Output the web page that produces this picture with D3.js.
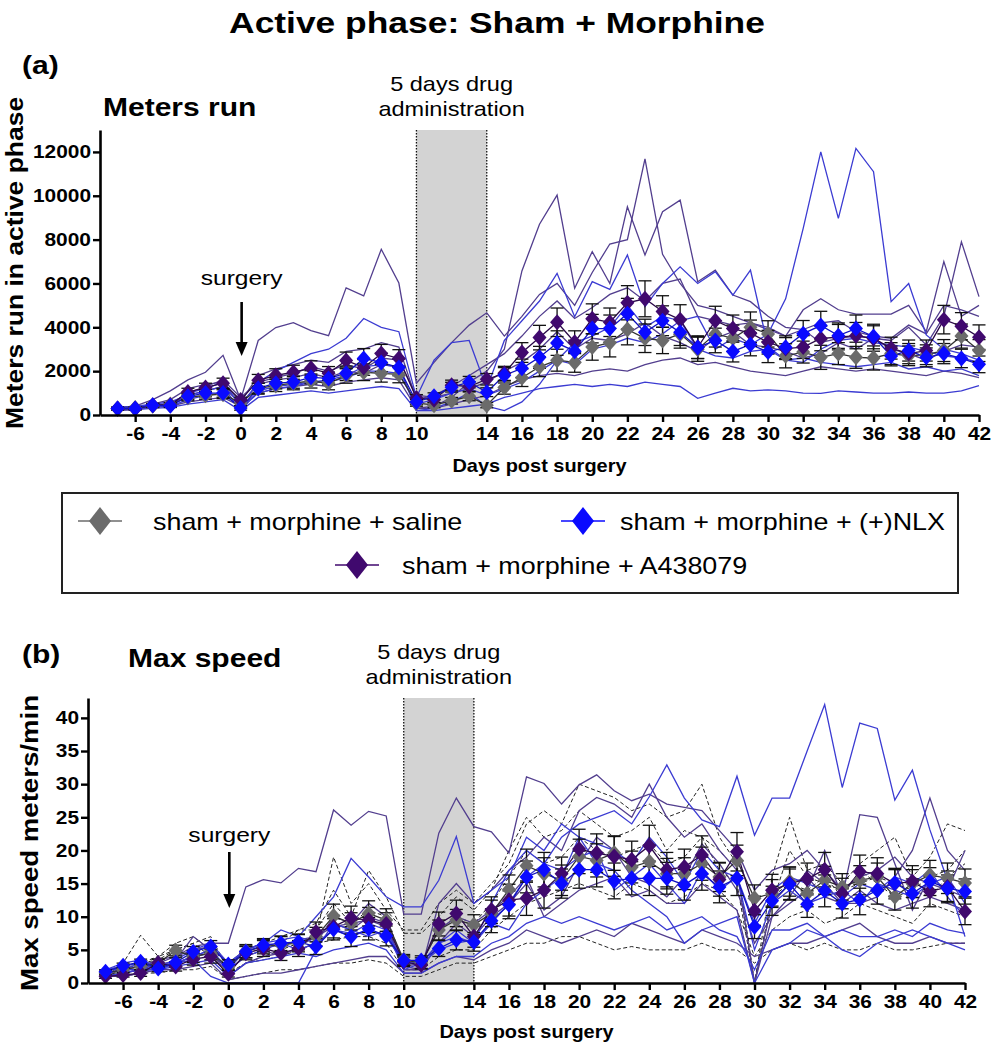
<!DOCTYPE html>
<html><head><meta charset="utf-8">
<script src="https://cdn.jsdelivr.net/npm/d3@7"></script>
<style>
body{margin:0;background:#fff}
svg{display:block}
text{font-family:Arial,"Liberation Sans",sans-serif;fill:#000}
</style>
</head><body>
<svg id="chart" width="1002" height="1050"></svg>
<script>
// ---------- DATA ----------
const days = [-7,-6,-5,-4,-3,-2,-1,0,1,2,3,4,5,6,7,8,9,10,11,12,13,14,15,16,17,18,19,20,21,22,23,24,25,26,27,28,29,30,31,32,33,34,35,36,37,38,39,40,41,42];
const xTickDays = [-6,-4,-2,0,2,4,6,8,10,14,16,18,20,22,24,26,28,30,32,34,36,38,40,42];
const metersTicks = [0,2000,4000,6000,8000,10000,12000];
const speedTicks = [0,5,10,15,20,25,30,35,40];
const groupNames = ["sham + morphine + saline","sham + morphine + (+)NLX","sham + morphine + A438079"];

// Panel (a): meters run, group means and SEM
const metersSaline = [280,320,420,480,800,900,950,550, 1200,1350,1450,1550,1450,1800,1950,1900,1850, 550,450,650,850,450, 1250,1700,2200,2500,2400,3100,3300,3900,3500,3400,3700,3000,3700,3500,4000,3700,2700,2870,2630,2800,2630,2600,2800,2700,2750,2940,3600,2940];
const metersNLX = [300,300,450,420,850,1000,1000,320, 1220,1450,1500,1720,1670,1900,2580,2400,2170, 590,860,1270,1500,1040, 1810,2130,2630,3280,2910,3940,3940,4620,3770,4300,3770,3080,3400,2900,3220,2870,3090,3710,4080,3620,3940,3580,2690,2940,2630,2800,2580,2310];
const metersA438 = [300,280,450,450,1050,1250,1450,680, 1580,1810,1950,2130,1900,2490,2170,2800,2580, 770,700,1360,1300,1630, 1900,2850,3530,4230,3320,4390,4230,5120,5300,4720,4350,3090,4300,3940,3730,3320,3030,3100,3490,3550,3620,3490,3050,2800,2940,4350,4050,3550];
const metersSalineSem = [60,60,80,90,150,180,200,120, 250,280,300,320,300,350,380,400,380, 150,120,150,200,120, 300,400,450,500,450,600,650,700,650,600,650,550,600,600,700,600,550,500,550,500,500,550,500,450,450,500,550,500];
const metersNLXSem = [50,60,70,80,140,170,190,100, 230,260,280,300,290,330,450,420,380, 120,150,220,260,200, 350,420,500,560,500,650,620,700,600,680,600,500,560,480,520,480,520,600,650,580,620,560,450,480,430,460,420,380];
const metersA438Sem = [60,60,80,90,170,200,230,130, 270,300,320,340,310,380,360,420,400, 160,140,230,220,260, 320,450,560,650,520,680,650,780,820,720,680,520,660,620,600,540,500,520,560,580,600,580,500,460,480,650,620,560];

// Panel (a): individual animals
const metersA438Ind1 = [350,400,700,1100,1600,1950,2720,700, 3400,3990,4210,3850,3620,5800,5430,7560,6020, 1450,2400,3300,4100,4660, 3600,4500,5500,6000,5000,6500,7800,8000,11680,7330,6000,5000,4800,4500,4200,4000,3600,4800,5300,4800,4600,4600,4600,5000,3800,7000,4500,5000];
const metersA438Ind2 = [250,300,400,500,900,1100,1300,500, 1400,1600,1700,1900,1700,2000,1900,2300,2200, 300,400,800,1500,2000, 3000,6570,8700,10030,5780,7450,6000,9500,7300,9270,9800,6080,6610,5470,5170,4500,4000,3900,3300,3500,3600,3500,3400,4000,3200,4500,7900,5400];
const metersA438Ind3 = [300,350,500,700,1200,1400,1500,600, 1800,2100,2300,2500,2400,2900,3000,3300,3100, 700,900,1300,1800,2300, 2800,3600,4500,5200,4400,4900,5500,5800,5200,6000,6200,4500,4300,4100,4200,3900,3600,3900,4200,4300,3800,3600,3500,4100,3700,5000,4800,4500];
const metersA438Ind4 = [200,250,350,400,600,700,800,400, 1000,1200,1300,1400,1300,1500,1600,1700,1600, 300,300,500,700,900, 1300,1600,1800,1900,1800,2000,2100,2000,2300,2500,2600,2300,2400,2200,2000,1900,1800,2000,2200,2100,2000,2100,2000,1900,1800,2000,1900,1700];
const metersA438Ind5 = [300,300,450,500,1000,1300,1600,800, 1500,1700,1900,2200,2000,2300,2100,2600,2500, 900,800,1000,1200,1500, 2000,2400,3000,3800,3000,3500,3400,3700,4200,3600,3300,2900,3500,3800,3200,3100,2900,2600,2800,3300,3000,3500,3000,2800,2500,2900,3200,3100];
const metersNLXInd1 = [300,300,400,400,700,900,1000,300, 1000,1200,1300,1500,1500,1700,2000,2000,1900, 500,700,1000,1200,900, 1200,1500,2000,2500,2300,3000,3200,3500,3300,3700,4300,4500,3000,3500,3200,3700,5300,8510,12000,8970,12160,11100,5170,6000,3650,3000,2800,2500];
const metersNLXInd2 = [300,350,500,500,1000,1200,1500,400, 1500,2000,2400,2800,3000,3500,4400,4000,3800, 800,2500,3300,3400,1200, 3400,4300,5200,6460,4480,6080,5730,7300,4940,6000,6760,6000,6540,5470,6610,3120,2500,2600,2400,2300,2200,2300,2400,2100,2200,2000,2100,1800];
const metersNLXInd3 = [250,250,300,350,500,600,700,200, 800,900,1000,1100,1000,1100,1200,1300,1200, 200,200,300,400,500, 800,1000,1200,1300,1400,1300,1400,1300,1500,1400,1300,760,1000,1220,1100,1150,1100,1000,990,1100,1050,1000,1000,1050,1000,1000,1100,1340];
const metersNLXInd4 = [350,400,500,600,900,1100,1300,200, 1100,1300,1400,1500,1600,1800,2200,2300,2200, 200,300,600,1000,400, 200,600,1400,2500,3300,3600,4000,5000,4000,4500,4300,3000,2700,2600,2900,3000,2500,2400,3000,3400,3500,3300,3200,3100,2900,2700,2600,2400];

// Panel (b): max speed, group means and SEM
const speedSaline = [1.5,2.0,2.5,3.0,4.9,4.0,4.5,2.5, 4.8,5.5,5.8,6.0,7.0,10.1,9.0,10.5,9.5, 3.5,3.0,8.0,9.5,8.8, 10.5,14.1,17.7,16.5,15.5,19.1,18.5,19.6,17.5,18.3,16.5,16.5,18.0,16.0,18.5,12.8,13.5,15.3,13.5,15.5,14.5,15.5,16.0,13.0,15.0,16.3,15.8,15.1];
const speedNLX = [1.7,2.6,3.2,2.2,3.1,4.7,5.5,2.8, 4.7,5.7,6.0,6.2,5.5,8.1,7.0,8.2,7.1, 3.4,3.4,5.2,6.5,6.2, 9.4,11.8,16.0,17.1,15.0,17.1,17.1,15.4,15.8,15.8,15.8,14.8,16.5,14.5,15.8,8.5,12.4,14.9,11.9,13.9,12.0,12.6,14.0,15.1,13.5,15.3,14.3,13.8];
const speedA438 = [1.0,1.2,1.5,3.0,2.5,3.6,4.0,1.4, 4.5,5.2,4.5,5.2,7.7,8.5,9.8,9.5,8.9, 3.2,2.7,8.9,10.5,7.0, 11.0,12.5,12.8,14.0,16.5,20.2,19.6,19.1,18.6,20.7,17.1,17.5,19.3,15.6,19.8,10.9,14.0,15.0,15.7,17.1,13.5,16.8,16.5,15.0,15.3,13.8,14.5,10.8];
const speedSalineSem = [0.3,0.4,0.5,0.6,0.8,0.9,1.0,0.6, 1.0,1.1,1.2,1.3,1.4,1.8,1.6,1.9,1.7, 0.8,0.8,1.5,1.6,1.5, 2.0,2.2,2.5,2.4,2.3,2.6,2.5,2.6,2.4,2.5,2.3,2.4,2.5,2.2,2.3,2.0,2.1,2.2,2.0,2.1,2.0,2.2,2.1,2.0,2.1,2.2,2.3,2.1];
const speedNLXSem = [0.3,0.4,0.4,0.5,0.7,0.8,0.9,0.7, 0.9,1.0,1.1,1.2,1.2,1.6,1.5,1.7,1.5, 0.7,0.7,1.2,1.5,1.4, 1.8,2.1,2.4,2.6,2.2,2.8,2.6,2.7,2.5,2.6,2.4,2.3,2.5,2.4,2.6,1.8,2.2,2.3,2.0,2.4,2.2,2.3,2.1,2.0,2.2,2.1,2.0,1.9];
const speedA438Sem = [0.3,0.3,0.5,0.6,0.7,0.9,1.0,0.5, 1.0,1.2,1.1,1.2,1.5,1.7,1.8,1.9,1.7, 0.7,0.6,1.8,2.0,1.6, 2.0,2.4,2.6,2.7,2.5,3.0,2.9,3.0,2.8,3.1,2.6,2.7,2.9,2.5,2.9,2.2,2.4,2.5,2.4,2.6,2.3,2.5,2.4,2.3,2.4,2.3,2.4,2.0];

// Panel (b): individual animals
const speedA438Ind1 = [1.0,1.5,2.0,3.0,4.0,5.5,6.0,6.0, 14.5,15.6,15.1,17.3,16.8,26.1,23.8,25.9,25.2, 10.4,10.4,22.6,27.9,23.6, 22.8,19.6,31.1,30.1,27.0,29.9,31.4,29.0,27.5,28.5,27.0,26.5,26.0,23.0,20.0,14.0,17.0,18.0,20.0,17.0,14.0,16.0,17.0,19.0,16.0,15.0,14.0,13.0];
const speedA438Ind2 = [1.5,1.0,1.5,2.5,3.5,7.0,5.0,1.0, 3.0,4.0,4.5,5.0,6.0,10.0,9.0,12.0,10.0, 2.5,2.0,12.0,15.0,12.0, 14,17,19,22,20,26,28,27,25,30,25,22,24,20,17,0,10,12,14,20,13,25.4,25,18,11,16,14,20];
const speedA438Ind3 = [1.0,1.5,2.0,3.0,3.0,4.0,4.5,2.0, 4.0,5.0,4.0,5.5,7.0,9.0,8.0,10.0,9.0, 2.0,2.0,6.0,9.0,7.0, 10,12,15,11,13,18,22,20,16,15,13,16,21,18,14,6,10,13,17,15,12,12,13,16,20,27.9,20,17];
const speedA438Ind4 = [1,1,1.5,2,2,2.5,3,0.5, 1.0,1.5,1.5,2.0,2.5,3.0,3.5,4.0,4.0, 1.5,1.5,3.0,4.0,3.5, 5,6,8,7,6,7,8,7,9,8,7,6,8,7,6,4,5,6,6,7,8,9,7,6,6,7,6,6];
const speedA438Ind5 = [1.5,2,2.5,3.5,4,5,5.5,3, 5,6,5.5,6.5,7,8.5,9,9.5,8.5, 2.5,3,8,10,9, 11,13,16,10,12,14,15,16,13,14,12,12,15,13,11,0,12,15,16,13,12,14,12,11,12,13,12,11];
const speedNLXInd1 = [2,2.5,3,2,3,4,5,2, 4,5,6,5,6,8,7,8,7, 3,3,6,8,6, 12,17,20,18,22,24,25,26,24,28.1,32.9,27.9,24.6,23.6,31.2,22.3,27.9,27.9,35,42,29.5,39.2,38.4,27.6,32.1,23.1,15.5,7.0];
const speedNLXInd2 = [2,2,3,2,3,4,5,2, 5,6,8,7,10,13,18.8,16,13, 11.5,11.5,15.5,22.1,12, 14,16,22,20,24,22,21,20,18,22,19,15,20,17,16,9,14,16,15,14,13,15,14,16,15,17,13,10];
const speedNLXInd3 = [1.5,2,2,2.5,3,3.5,1,0, 0,0,0,0,5,9,8,7,8, 2,3,6,7,6, 9,8,12,14,16,22,18,17,14,12,10,6,8,9,10,0,5,6,8,7,5,4,6,7,8,7,6,5];
const speedNLXInd4 = [2,3,3.5,2.5,3.5,5,6,3, 5,6,6.5,7,6,8,7.5,9,8, 3,3,5,6,6.5, 9,12,16,18,17,19,20,14,16,18,15,12,17,14,16,5,12,14,12,13,14,12,15,14,13,15,16,12];
const speedNLXInd5 = [1,1.5,2,2,2.5,3,3.5,1, 3,3.5,4,4.5,4,5,5.5,6,5, 1.5,1.5,3,4,4, 6,7,9,10,9,10,9,8,9,10,8,9,10,8,7,2,8,8,9,7,8,7,7,8,7,9,8,7.5];
const speedSalineInd1 = [1,3,7.2,4,5,6,4,1.5, 3,4,5,6,7,19,12,15,11, 8,8,12,14,12, 15,18,24,26,24,30,29,28,26,27,25,26,30,22,18,0,16,25,17,18,15,18,20,22,16,19,24,23];
const speedSalineInd2 = [1,2,3,3.5,5,6,7,2, 4,5,6,8,9,14,10,17,13, 7.5,7.5,10,13,11, 14,20,25,22,23,26,24,22,23,25,20,23,22,20,17,0,13,15,14,16,13,17,15,13,14,16,17,20];
const speedSalineInd3 = [1.5,1.5,2,2.5,3,4,4.5,1, 3,3.5,4,5,6,6.5,7,7,6, 2,2,4,5,5, 8,10,12,13,14,15,14,13,15,14,12,13,15,14,11,4,8,10,11,9,10,12,11,10,9,12,11,10];
const speedSalineInd4 = [1,1,1.5,1.5,2,2,2.5,0.5, 1,1.5,2,2,2.5,3,3,3.5,3, 1,1,2,3,3, 4,5,6,6,7,7,6,5,5.5,5,5,5,6,5,5,3,5,6,5,6,5,5,6,5,5,5.5,6,6];
const speedSalineInd5 = [2,2.5,3,4,6,7,5,3, 5,6,7,8,8,12,9,11,10, 3,3,8,10,9, 12,16,20,18,19,22,20,19,20,21,18,19,22,17,15,0,12,20,16,15,14,15,16,15,14,13,16,18];

// ---------- DRAWING ----------
const svg = d3.select('#chart');
const FILL = {saline:'#6b6b6b', nlx:'#0a0aff', a438:'#40096e'};
const MEANLINE = {saline:'#333333', nlx:'#1010c0', a438:'#2a0848'};
const INDCOL = {a438:'#523e8e', nlx:'#3b3bd2', saline:'#222222'};

// widen text horizontally (reference typeface is wider than Arial)
function stretch(sel, f){
  sel.each(function(){
    const L = this.getComputedTextLength();
    this.setAttribute('textLength', (L*f).toFixed(1));
    this.setAttribute('lengthAdjust','spacingAndGlyphs');
  });
  return sel;
}
function diamondPath(w,h){ return `M0,${-h}L${w},0L0,${h}L${-w},0Z`; }

function drawPanel(cfg){
  const x = d3.scaleLinear().domain([-8,42]).range([cfg.x0,cfg.x1]);
  const y = d3.scaleLinear().domain([0,cfg.ymax]).range([cfg.y0,cfg.y1]);
  const g = svg.append('g');

  g.append('rect').attr('x',x(10)).attr('y',cfg.y1).attr('width',x(14)-x(10)).attr('height',cfg.y0-cfg.y1).attr('fill','#d3d3d3');
  [10,14].forEach(d=>{
    g.append('line').attr('x1',x(d)).attr('x2',x(d)).attr('y1',cfg.y1).attr('y2',cfg.y0)
      .attr('stroke','#111').attr('stroke-width',1.3).attr('stroke-dasharray','1.5,1.5');
  });

  const line = d3.line().x((v,i)=>x(days[i])).y(v=>y(v));

  cfg.indSaline.forEach(arr=>g.append('path').attr('d',line(arr)).attr('fill','none')
     .attr('stroke',INDCOL.saline).attr('stroke-width',1).attr('stroke-dasharray','4,2.5'));
  cfg.indA438.forEach(arr=>g.append('path').attr('d',line(arr)).attr('fill','none')
     .attr('stroke',INDCOL.a438).attr('stroke-width',1.3));
  cfg.indNLX.forEach(arr=>g.append('path').attr('d',line(arr)).attr('fill','none')
     .attr('stroke',INDCOL.nlx).attr('stroke-width',1.3));

  const groups = [
    {key:'saline', m:cfg.saline, s:cfg.salineSem},
    {key:'a438', m:cfg.a438, s:cfg.a438Sem},
    {key:'nlx', m:cfg.nlx, s:cfg.nlxSem}
  ];
  groups.forEach(gr=>{
    g.append('path').attr('d',line(gr.m)).attr('fill','none').attr('stroke',MEANLINE[gr.key]).attr('stroke-width',1.3);
  });
  groups.forEach(gr=>{
    const eb = g.append('g').attr('stroke','#111').attr('stroke-width',1.3);
    gr.m.forEach((v,i)=>{
      const cx = x(days[i]);
      const lo = Math.max(0, v-gr.s[i]), hi = v+gr.s[i];
      eb.append('line').attr('x1',cx).attr('x2',cx).attr('y1',y(lo)).attr('y2',y(hi));
      eb.append('line').attr('x1',cx-6.5).attr('x2',cx+6.5).attr('y1',y(lo)).attr('y2',y(lo));
      eb.append('line').attr('x1',cx-6.5).attr('x2',cx+6.5).attr('y1',y(hi)).attr('y2',y(hi));
    });
  });
  groups.forEach(gr=>{
    g.append('g').selectAll('path').data(gr.m).join('path')
      .attr('d',diamondPath(7,8))
      .attr('transform',(v,i)=>`translate(${x(days[i])},${y(v)})`)
      .attr('fill',FILL[gr.key]);
  });

  const xa = g.append('g').attr('transform',`translate(0,${cfg.y0})`)
    .call(d3.axisBottom(x).tickValues(xTickDays).tickSize(7).tickSizeOuter(0).tickPadding(5).tickFormat(d=>String(d)));
  const ya = g.append('g').attr('transform',`translate(${cfg.x0},0)`)
    .call(d3.axisLeft(y).tickValues(cfg.ticks).tickSize(7).tickSizeOuter(0).tickPadding(2).tickFormat(d=>String(d)));
  [xa,ya].forEach(a=>{
    a.select('.domain').attr('stroke','#000').attr('stroke-width',2.6);
    a.selectAll('.tick line').attr('stroke','#000').attr('stroke-width',2.4);
    a.selectAll('.tick text').attr('font-size',18).attr('font-weight','bold').attr('fill','#000').attr('font-family','Arial, "Liberation Sans", sans-serif');
    stretch(a.selectAll('.tick text'),1.16);
  });

  const sx = x(0)+1;
  stretch(g.append('text').attr('x',sx).attr('y',cfg.surgY).attr('text-anchor','middle').attr('font-size',21).text('surgery'),1.17);
  g.append('line').attr('x1',sx).attr('x2',sx).attr('y1',cfg.arrowY0).attr('y2',cfg.arrowY1-10)
    .attr('stroke','#000').attr('stroke-width',2.6);
  g.append('path').attr('d',`M${sx-6},${cfg.arrowY1-14}L${sx+6},${cfg.arrowY1-14}L${sx},${cfg.arrowY1}Z`).attr('fill','#000');

  stretch(g.append('text').attr('x',x(12)).attr('y',cfg.drugY).attr('text-anchor','middle').attr('font-size',21).text('5 days drug'),1.12);
  stretch(g.append('text').attr('x',x(12)).attr('y',cfg.drugY+25).attr('text-anchor','middle').attr('font-size',21).text('administration'),1.12);

  stretch(g.append('text').attr('x',(cfg.x0+cfg.x1)/2).attr('y',cfg.xlabY).attr('text-anchor','middle')
    .attr('font-size',19).attr('font-weight','bold').text('Days post surgery'),1.05);
  stretch(g.append('text').attr('transform',`translate(${cfg.ylabX},${cfg.ylabCY}) rotate(-90)`).attr('text-anchor','middle')
    .attr('font-size',23).attr('font-weight','bold').text(cfg.ylab),cfg.ylabF);

  stretch(g.append('text').attr('x',cfg.tagX).attr('y',cfg.tagY).attr('font-size',25).attr('font-weight','bold').text(cfg.tag),1.2);
  stretch(g.append('text').attr('x',cfg.subX).attr('y',cfg.subY).attr('font-size',25).attr('font-weight','bold').text(cfg.sub),1.2);
}

const title = svg.append('text').attr('x',497).attr('y',33).attr('text-anchor','middle').attr('font-size',29).attr('font-weight','bold')
  .text('Active phase: Sham + Morphine');
stretch(title,1.22);

drawPanel({
  x0:100, x1:979, y0:415, y1:130, ymax:13000, ticks:metersTicks,
  saline:metersSaline, nlx:metersNLX, a438:metersA438,
  salineSem:metersSalineSem, nlxSem:metersNLXSem, a438Sem:metersA438Sem,
  indSaline:[], indA438:[metersA438Ind1,metersA438Ind2,metersA438Ind3,metersA438Ind4,metersA438Ind5],
  indNLX:[metersNLXInd1,metersNLXInd2,metersNLXInd3,metersNLXInd4],
  surgY:285, arrowY0:302, arrowY1:356, drugY:91, xlabY:472,
  ylabX:23, ylabCY:263, ylab:'Meters run in active phase', ylabF:1.15,
  tag:'(a)', tagX:22, tagY:74, sub:'Meters run', subX:103, subY:116
});

drawPanel({
  x0:88, x1:965, y0:983, y1:698, ymax:43, ticks:speedTicks,
  saline:speedSaline, nlx:speedNLX, a438:speedA438,
  salineSem:speedSalineSem, nlxSem:speedNLXSem, a438Sem:speedA438Sem,
  indSaline:[speedSalineInd1,speedSalineInd2,speedSalineInd3,speedSalineInd4,speedSalineInd5],
  indA438:[speedA438Ind1,speedA438Ind2,speedA438Ind3,speedA438Ind4,speedA438Ind5],
  indNLX:[speedNLXInd1,speedNLXInd2,speedNLXInd3,speedNLXInd4,speedNLXInd5],
  surgY:842, arrowY0:852, arrowY1:908, drugY:659, xlabY:1038,
  ylabX:38, ylabCY:843, ylab:'Max speed meters/min', ylabF:1.2,
  tag:'(b)', tagX:22, tagY:663, sub:'Max speed', subX:128, subY:667
});

const leg = svg.append('g');
leg.append('rect').attr('x',62).attr('y',493).attr('width',896).attr('height',100)
  .attr('fill','none').attr('stroke','#222').attr('stroke-width',2);
const legItems = [
  {name:groupNames[0], key:'saline', cx:100, cy:521, tx:153},
  {name:groupNames[1], key:'nlx', cx:583, cy:521, tx:620},
  {name:groupNames[2], key:'a438', cx:357, cy:565, tx:402}
];
legItems.forEach(it=>{
  leg.append('line').attr('x1',it.cx-22).attr('x2',it.cx+22).attr('y1',it.cy).attr('y2',it.cy)
    .attr('stroke',FILL[it.key]).attr('stroke-width',1.5);
  leg.append('path').attr('d',diamondPath(11,14)).attr('transform',`translate(${it.cx},${it.cy})`).attr('fill',FILL[it.key]);
  stretch(leg.append('text').attr('x',it.tx).attr('y',it.cy+9).attr('font-size',24).text(it.name),1.12);
});
</script>
</body></html>
